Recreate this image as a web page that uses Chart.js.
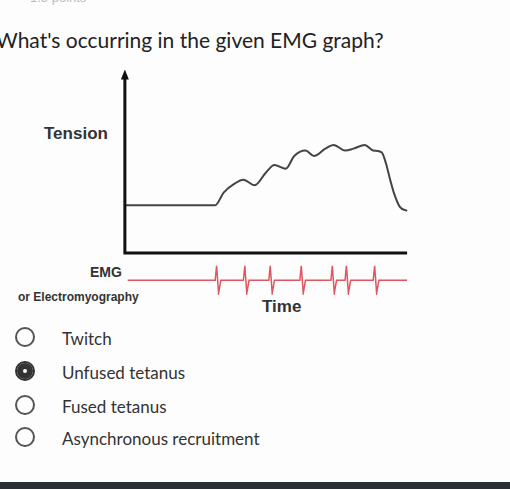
<!DOCTYPE html>
<html>
<head>
<meta charset="utf-8">
<script src="https://cdn.jsdelivr.net/npm/chart.js@4/dist/chart.umd.min.js"></script>
<style>
  body { margin: 0; background: #fff; }
  #wrap { position: relative; width: 510px; height: 489px; overflow: hidden; background: #fdfdfd; font-family: "Liberation Sans", Arial, sans-serif; }
  .t { position: absolute; white-space: nowrap; }
  #c { position: absolute; left: 115px; top: 70px; }
  .radio { position: absolute; left: 15px; width: 16px; height: 16px; border: 2px solid #555; border-radius: 50%; box-sizing: content-box; }
  .radio.on { border-color: #333; background: #fff; box-shadow: inset 0 0 0 6px #333; }
  .opt { position: absolute; left: 62px; font-size: 17px; color: #333; font-family: "Lato", sans-serif; }
</style>
</head>
<body>
<div id="wrap">
  <div class="t" style="left:30px;top:-10px;font-size:13px;color:#bbb;">1.5 points</div>
  <div class="t" style="left:-4px;top:27px;font-size:21px;color:#222;font-family:'Lato',sans-serif;">What's occurring in the given EMG graph?</div>
  <div class="t" style="left:44px;top:124px;font-size:17px;font-weight:bold;color:#333;">Tension</div>
  <div class="t" style="left:90px;top:264px;font-size:14px;font-weight:bold;color:#333;">EMG</div>
  <div class="t" style="left:18px;top:290px;font-size:12px;font-weight:bold;color:#333;">or Electromyography</div>
  <div class="t" style="left:262px;top:297px;font-size:17px;font-weight:bold;color:#333;">Time</div>
  <canvas id="c" width="300" height="225"></canvas>
  <div class="radio" style="top:327px"></div>
  <div class="radio on" style="top:361px"></div>
  <div class="radio" style="top:395px"></div>
  <div class="radio" style="top:427px"></div>
  <div class="opt" style="top:328px">Twitch</div>
  <div class="opt" style="top:362px">Unfused tetanus</div>
  <div class="opt" style="top:396px">Fused tetanus</div>
  <div class="opt" style="top:428px">Asynchronous recruitment</div>
  <div style="position:absolute;left:0;top:482px;width:510px;height:7px;background:#2a2f36;"></div>
</div>
<script>
// tension curve (time 0..100, tension 0..100)
const tensionX = [0, 32, 35, 39, 42, 46, 50, 53, 57, 60, 64, 67, 71, 74, 78, 81, 85, 88, 91, 92.5, 94, 95.5, 97.5, 100];
const tensionY = [26, 26, 33, 38, 40, 37, 44, 48, 46, 53, 56, 53, 57, 59, 56, 57, 59, 56, 55, 49, 40, 32, 25, 23];

// EMG trace: baseline with action-potential spikes
const emgX = [1, 32, 32.5, 33.2, 34, 42, 42.5, 43.2, 44, 51, 51.5, 52.2, 53, 62, 62.5, 63.2, 64, 73, 73.5, 74.2, 75, 78, 78.5, 79.2, 80, 88, 88.5, 89.2, 90, 100];
const emgY = [-15, -15, -7, -22, -15, -15, -7, -22, -15, -15, -7, -22, -15, -15, -7, -22, -15, -15, -7, -22, -15, -15, -7, -22, -15, -15, -7, -22, -15, -15];

const axes = {
  id: "axes",
  afterDatasetsDraw(chart) {
    const { ctx, scales: { x, y } } = chart;
    const x0 = x.getPixelForValue(0), y0 = y.getPixelForValue(0);
    const yTop = y.getPixelForValue(97), xEnd = x.getPixelForValue(100);
    ctx.save();
    ctx.strokeStyle = "#111";
    ctx.lineWidth = 3;
    ctx.beginPath();
    ctx.moveTo(x0, yTop); ctx.lineTo(x0, y0); ctx.lineTo(xEnd, y0);
    ctx.stroke();
    ctx.fillStyle = "#111";
    ctx.beginPath();
    ctx.moveTo(x0, yTop - 6); ctx.lineTo(x0 - 4, yTop + 4); ctx.lineTo(x0 + 4, yTop + 4);
    ctx.fill();
    ctx.restore();
  }
};

new Chart(document.getElementById("c"), {
  type: "line",
  data: {
    datasets: [
      { data: tensionX.map((v, i) => ({ x: v, y: tensionY[i] })), borderColor: "#444", borderWidth: 2, pointRadius: 0, cubicInterpolationMode: "monotone" },
      { data: emgX.map((v, i) => ({ x: v, y: emgY[i] })), borderColor: "#e0555f", borderWidth: 1.5, pointRadius: 0, tension: 0 }
    ]
  },
  options: {
    responsive: false,
    animation: false,
    layout: { padding: 0 },
    plugins: { legend: { display: false }, tooltip: { enabled: false } },
    scales: {
      x: { type: "linear", min: -3.5, max: 102.8, display: false },
      y: { min: -23, max: 100, display: false }
    }
  },
  plugins: [axes]
});
</script>
</body>
</html>
